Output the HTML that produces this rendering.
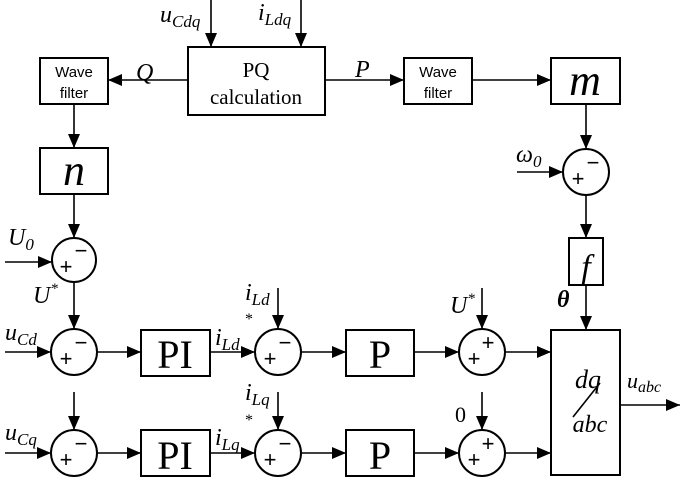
<!DOCTYPE html>
<html><head><meta charset="utf-8"><style>
html,body{margin:0;padding:0;background:#fff;}
svg{display:block;}
text{font-family:"Liberation Serif",serif;fill:#000;}
.it{font-style:italic;}
.s{font-family:"Liberation Sans",sans-serif;}
</style></head><body>
<svg width="685" height="480" viewBox="0 0 685 480" xmlns="http://www.w3.org/2000/svg">
<defs><marker id="a" markerWidth="10" markerHeight="10" refX="9" refY="5" orient="auto" markerUnits="userSpaceOnUse"><path d="M0,0 L10,5 L0,10 Z" fill="#000"/></marker>
<marker id="b" markerWidth="14" markerHeight="12" refX="14" refY="6" orient="auto" markerUnits="userSpaceOnUse"><path d="M0,0 L14,6 L0,12 Z" fill="#000"/></marker></defs>
<g stroke="#000" stroke-width="2" fill="none">
<rect x="188" y="47" width="137" height="68"/>
<rect x="40" y="58" width="68" height="46"/>
<rect x="404" y="58" width="68" height="46"/>
<rect x="551" y="58" width="69" height="46"/>
<rect x="40" y="148" width="68" height="46"/>
<rect x="569" y="238" width="34" height="47"/>
<rect x="141" y="330" width="69" height="46"/>
<rect x="141" y="430" width="69" height="46"/>
<rect x="346" y="330" width="68" height="46"/>
<rect x="346" y="430" width="68" height="46"/>
<rect x="551" y="330" width="69" height="145"/>
<circle cx="586" cy="172" r="23"/>
<circle cx="74" cy="260" r="22"/>
<circle cx="74" cy="352" r="23"/>
<circle cx="74" cy="453" r="23"/>
<circle cx="278" cy="352" r="23"/>
<circle cx="278" cy="453" r="23"/>
<circle cx="482" cy="352" r="23"/>
<circle cx="482" cy="453" r="23"/>
</g>
<g stroke="#000" stroke-width="1.6" fill="none" marker-end="url(#b)">
<line x1="211" y1="0" x2="211" y2="47"/>
<line x1="301" y1="0" x2="301" y2="47"/>
<line x1="188" y1="80" x2="108" y2="80"/>
<line x1="325" y1="80" x2="404" y2="80"/>
<line x1="472" y1="80" x2="551" y2="80"/>
<line x1="586" y1="104" x2="586" y2="149"/>
<line x1="517" y1="172" x2="563" y2="172"/>
<line x1="586" y1="195" x2="586" y2="238"/>
<line x1="586" y1="285" x2="586" y2="330"/>
<line x1="74" y1="104" x2="74" y2="148"/>
<line x1="74" y1="194" x2="74" y2="238"/>
<line x1="5" y1="262" x2="52" y2="262"/>
<line x1="74" y1="282" x2="74" y2="329"/>
<line x1="5" y1="352" x2="51" y2="352"/>
<line x1="97" y1="352" x2="141" y2="352"/>
<line x1="210" y1="352" x2="255" y2="352"/>
<line x1="278" y1="288" x2="278" y2="329"/>
<line x1="301" y1="352" x2="346" y2="352"/>
<line x1="414" y1="352" x2="459" y2="352"/>
<line x1="482" y1="288" x2="482" y2="329"/>
<line x1="505" y1="352" x2="551" y2="352"/>
<line x1="74" y1="392" x2="74" y2="430"/>
<line x1="5" y1="453" x2="51" y2="453"/>
<line x1="97" y1="453" x2="141" y2="453"/>
<line x1="210" y1="453" x2="255" y2="453"/>
<line x1="278" y1="392" x2="278" y2="430"/>
<line x1="301" y1="453" x2="346" y2="453"/>
<line x1="414" y1="453" x2="459" y2="453"/>
<line x1="482" y1="392" x2="482" y2="430"/>
<line x1="505" y1="453" x2="551" y2="453"/>
<line x1="620" y1="405" x2="680" y2="405"/>
<line x1="573" y1="417" x2="600" y2="383" marker-end="none"/>
</g>
<!-- signs -->
<g font-family="Liberation Sans" font-size="22" text-anchor="middle">
<text x="578" y="186" class="s">+</text><text x="593" y="170" class="s">−</text>
<text x="66" y="274" class="s">+</text><text x="81" y="258" class="s">−</text>
<text x="66" y="366" class="s">+</text><text x="81" y="350" class="s">−</text>
<text x="66" y="467" class="s">+</text><text x="81" y="451" class="s">−</text>
<text x="270" y="366" class="s">+</text><text x="285" y="350" class="s">−</text>
<text x="270" y="467" class="s">+</text><text x="285" y="451" class="s">−</text>
<text x="474" y="366" class="s">+</text><text x="488" y="350" class="s">+</text>
<text x="474" y="467" class="s">+</text><text x="488" y="451" class="s">+</text>
</g>
<text x="256" y="77" font-size="21" text-anchor="middle">PQ</text>
<text x="256" y="104" font-size="21" text-anchor="middle">calculation</text>
<g class="s" font-size="15" text-anchor="middle">
<text x="74" y="77" class="s">Wave</text><text x="74" y="98" class="s">filter</text>
<text x="438" y="77" class="s">Wave</text><text x="438" y="98" class="s">filter</text>
</g>
<text x="585" y="95" font-size="44" class="it" text-anchor="middle">m</text>
<text x="74" y="185" font-size="44" class="it" text-anchor="middle">n</text>
<text x="586" y="278" font-size="34" class="it" text-anchor="middle">f</text>
<text x="175" y="368" font-size="40" text-anchor="middle">PI</text>
<text x="175" y="469" font-size="40" text-anchor="middle">PI</text>
<text x="380" y="368" font-size="40" text-anchor="middle">P</text>
<text x="380" y="469" font-size="40" text-anchor="middle">P</text>
<text x="136" y="80" font-size="24" class="it">Q</text>
<text x="355" y="77" font-size="24" class="it">P</text>
<text x="160" y="22" font-size="24" class="it">u<tspan font-size="17" dy="5">Cdq</tspan></text>
<text x="258" y="20" font-size="24" class="it">i<tspan font-size="17" dy="5">Ldq</tspan></text>
<text x="516" y="162" font-size="24" class="it">ω<tspan font-size="17" dy="5">0</tspan></text>
<text x="8" y="245" font-size="24" class="it">U<tspan font-size="17" dy="5">0</tspan></text>
<text x="33" y="303" font-size="24" class="it">U<tspan font-size="15" dy="-10">*</tspan></text>
<text x="5" y="340" font-size="24" class="it">u<tspan font-size="17" dy="5">Cd</tspan></text>
<text x="5" y="440" font-size="24" class="it">u<tspan font-size="17" dy="5">Cq</tspan></text>
<text x="215" y="345" font-size="24" class="it">i<tspan font-size="17" dy="5">Ld</tspan></text>
<text x="215" y="445" font-size="24" class="it">i<tspan font-size="17" dy="5">Lq</tspan></text>
<text x="245" y="300" font-size="24" class="it">i<tspan font-size="17" dy="5">Ld</tspan></text>
<text x="245" y="400" font-size="24" class="it">i<tspan font-size="17" dy="5">Lq</tspan></text>
<text x="245" y="324" font-size="16">*</text>
<text x="245" y="425" font-size="16">*</text>
<text x="450" y="313" font-size="24" class="it">U<tspan font-size="15" dy="-10">*</tspan></text>
<text x="455" y="422" font-size="22">0</text>
<text x="557" y="307" font-size="24" class="it" font-weight="bold">θ</text>
<text x="588" y="388" font-size="26" class="it" text-anchor="middle">dq</text>
<text x="590" y="432" font-size="24" class="it" text-anchor="middle">abc</text>
<text x="627" y="388" font-size="22" class="it">u<tspan font-size="16" dy="4">abc</tspan></text>
</svg>
</body></html>
